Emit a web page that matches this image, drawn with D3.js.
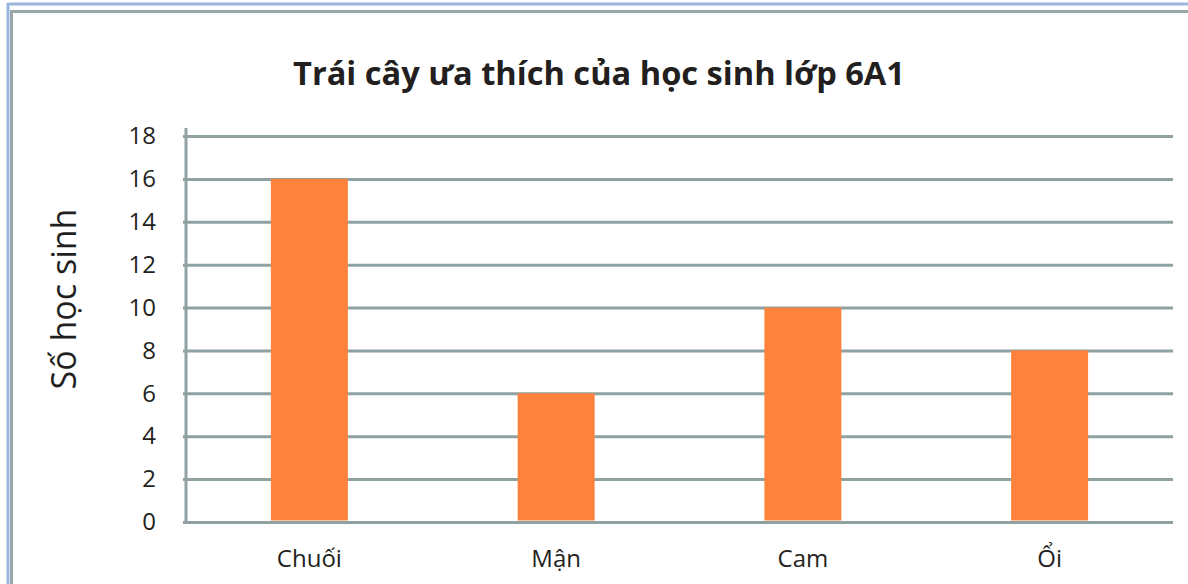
<!DOCTYPE html>
<html>
<head>
<meta charset="utf-8">
<script src="https://cdn.jsdelivr.net/npm/d3@7"></script>
<style>
  body { margin:0; background:#fff; }
  svg text { font-family: "Open Sans", "Noto Sans", sans-serif; fill:#231f20; }
  .grid line { stroke:#90a1a1; stroke-width:3; }
  .grid path { display:none; }
  .grid text { font-size:24px; }
</style>
</head>
<body>
<div id="chart"></div>
<script>
var width = 1188;
var height = 584;
var fruits = ["Chuối", "Mận", "Cam", "Ổi"];
var students = [16, 6, 10, 8];
var yTicks = [0, 2, 4, 6, 8, 10, 12, 14, 16, 18];
var title = "Trái cây ưa thích của học sinh lớp 6A1";
var yLabel = "Số học sinh";

var plot = { left:186, right:1173, top:136, bottom:522 };

var svg = d3.select("#chart")
            .append("svg")
            .attr("width", width)
            .attr("height", height);

// khung ngoai
svg.append("line").attr("x1",7).attr("x2",width).attr("y1",4).attr("y2",4)
   .attr("stroke","#9ab6dc").attr("stroke-width",3);
svg.append("line").attr("x1",8).attr("x2",8).attr("y1",3).attr("y2",height)
   .attr("stroke","#9ab6dc").attr("stroke-width",3);
svg.append("line").attr("x1",11).attr("x2",width).attr("y1",11.5).attr("y2",11.5)
   .attr("stroke","#98a7a7").attr("stroke-width",3);
svg.append("line").attr("x1",11.5).attr("x2",11.5).attr("y1",10).attr("y2",height)
   .attr("stroke","#98a7a7").attr("stroke-width",3);

var xScale = d3.scaleBand()
               .domain(fruits)
               .range([plot.left, plot.right])
               .paddingInner(0.688)
               .paddingOuter(0.344);
var yScale = d3.scaleLinear()
               .domain([0, 18])
               .range([plot.bottom, plot.top]);

var yAxis = d3.axisLeft(yScale)
              .tickValues(yTicks)
              .tickSize(-(plot.right - plot.left))
              .tickPadding(31);

var g = svg.append("g")
   .attr("class","grid")
   .attr("transform","translate("+plot.left+",0)")
   .call(yAxis);
g.selectAll(".tick line").attr("x1",-3);
g.selectAll(".tick text").attr("x",-30);

// truc dung
svg.append("line")
   .attr("x1",plot.left).attr("x2",plot.left)
   .attr("y1",128).attr("y2",yScale(0)+1.5)
   .attr("stroke","#90a1a1").attr("stroke-width",3);

svg.selectAll(".bar")
   .data(students)
   .enter()
   .append("rect")
   .attr("class","bar")
   .attr("x", function(d,i){ return xScale(fruits[i]); })
   .attr("width", xScale.bandwidth())
   .attr("y", function(d){ return yScale(d); })
   .attr("height", function(d){ return yScale(0) - yScale(d) - 1.5; })
   .attr("fill","#fe823c");

var xAxis = d3.axisBottom(xScale).tickSize(0).tickPadding(0);
var gx = svg.append("g")
   .attr("transform","translate(0,"+(yScale(0)+45)+")")
   .call(xAxis);
gx.select("path").remove();
gx.selectAll("text").attr("y",0).attr("dy",0)
  .style("font-size","24px").style("font-family","'Open Sans', sans-serif").attr("fill","#231f20");

svg.append("text")
   .attr("x", 599)
   .attr("y", 85)
   .attr("text-anchor","middle")
   .style("font-size","32px")
   .style("font-weight","bold")
   .attr("textLength", 612)
   .attr("lengthAdjust","spacingAndGlyphs")
   .text(title);

svg.append("text")
   .attr("transform","translate(76,"+((plot.top+plot.bottom)/2 - 30)+") rotate(-90)")
   .attr("text-anchor","middle")
   .style("font-size","34px")
   .text(yLabel);
</script>
</body>
</html>
